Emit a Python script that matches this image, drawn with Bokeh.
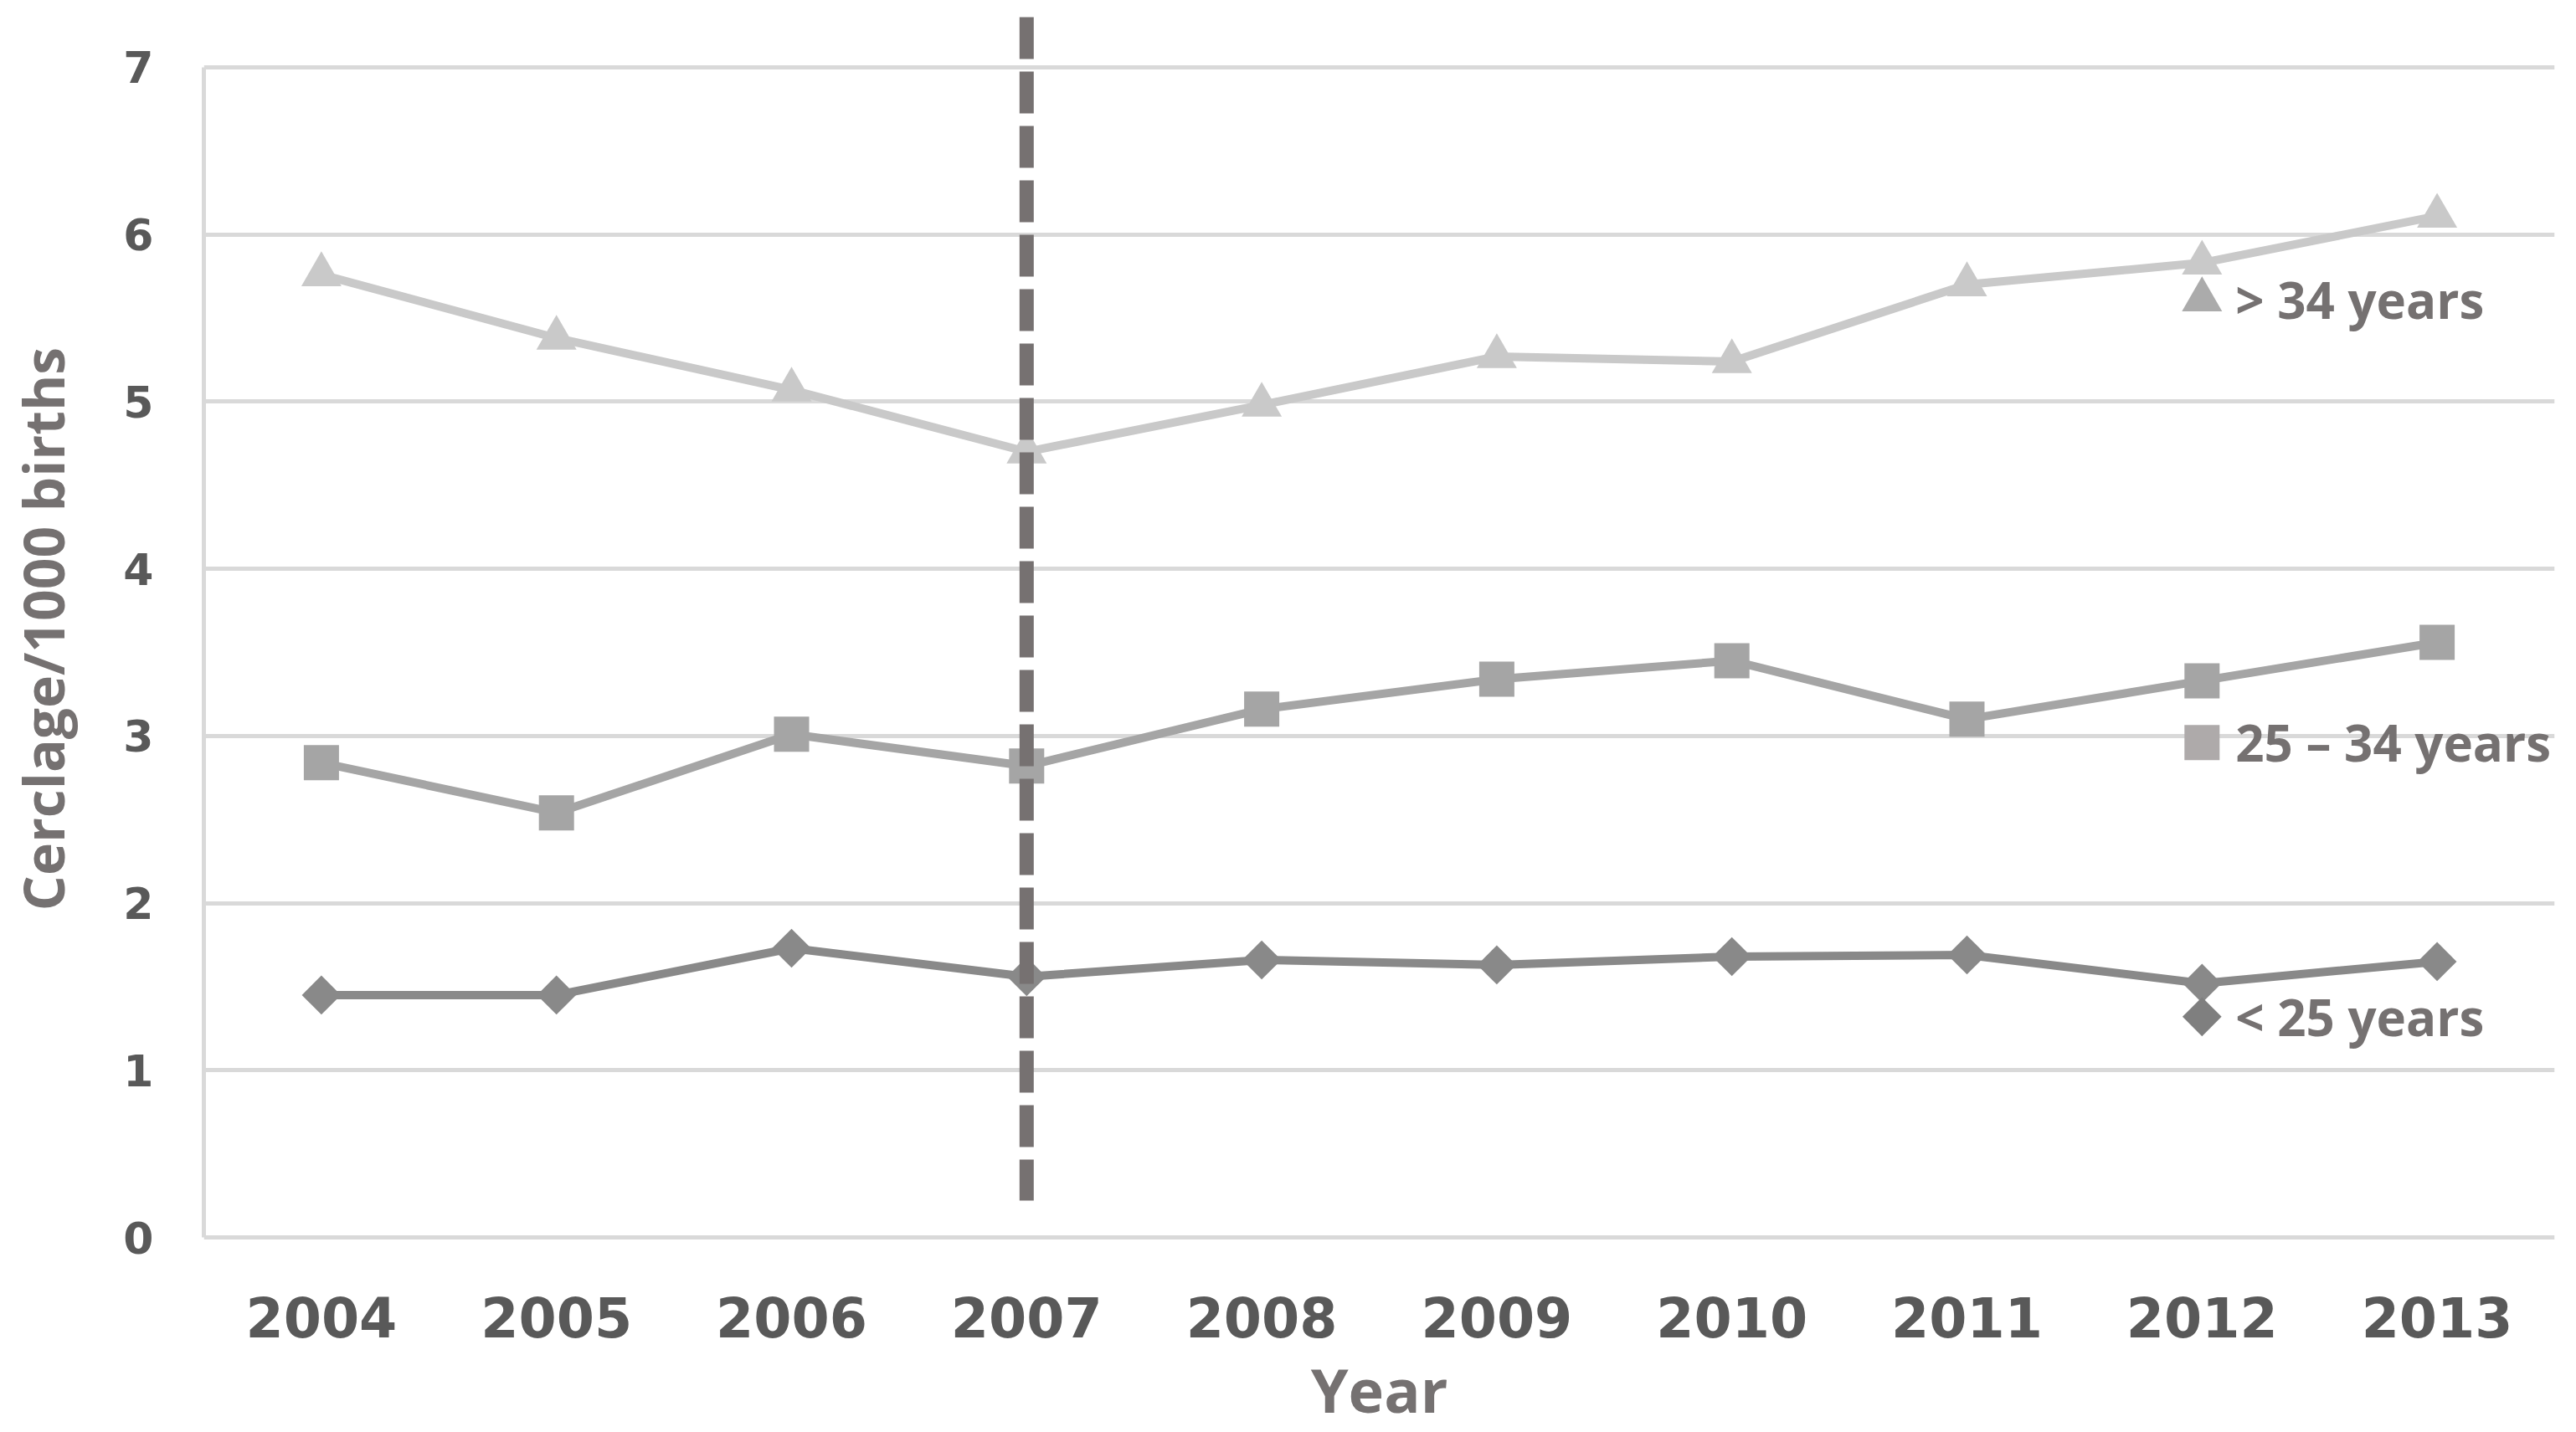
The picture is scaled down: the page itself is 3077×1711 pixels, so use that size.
import math
from bokeh.plotting import figure
from bokeh.models import FixedTicker, Range1d, ColumnDataSource
from bokeh.embed import file_html
from bokeh.resources import INLINE
from bokeh.core.properties import value

# ---------------- data ----------------
years = [2004, 2005, 2006, 2007, 2008, 2009, 2010, 2011, 2012, 2013]
year_labels = ["2004", "2005", "2006", "2007", "2008", "2009", "2010", "2011", "2012", "2013"]
over34 = [5.76, 5.38, 5.07, 4.70, 4.98, 5.27, 5.24, 5.70, 5.83, 6.11]
age25_34 = [2.84, 2.54, 3.01, 2.82, 3.16, 3.34, 3.45, 3.10, 3.33, 3.56]
under25 = [1.45, 1.45, 1.73, 1.56, 1.66, 1.63, 1.68, 1.69, 1.52, 1.65]
series_names = ["> 34 years", "25 \u2013 34 years", "< 25 years"]
y_ticks = [0, 1, 2, 3, 4, 5, 6, 7]
intervention_year = 2007
legend_year = 2012

# ---------------- styles / positions ----------------
legend_y = [5.61, 2.96, 1.32]
line_colors = ["#C9C9C9", "#A5A5A5", "#898989"]
legend_marker_colors = ["#ABABAB", "#AEAAAA", "#7F7F7F"]
text_color = "#757171"
tick_color = "#595959"
grid_color = "#D9D9D9"

p = figure(width=3069, height=1711,
           x_range=Range1d(2003.5, 2013.5), y_range=Range1d(-0.03, 7.31),
           output_backend="svg", toolbar_location=None,
           min_border_left=243, min_border_right=18,
           min_border_top=18, min_border_bottom=221)
p.outline_line_color = None
p.background_fill_color = "white"
p.border_fill_color = "white"

p.xgrid.grid_line_color = None
p.ygrid.grid_line_color = grid_color
p.ygrid.grid_line_width = 5
p.ygrid.ticker = FixedTicker(ticks=y_ticks)

p.xaxis.ticker = FixedTicker(ticks=years)
p.xaxis.major_label_overrides = {y: l for y, l in zip(years, year_labels)}
p.yaxis.ticker = FixedTicker(ticks=y_ticks)

for ax in (p.xaxis[0], p.yaxis[0]):
    ax.major_tick_line_color = None
    ax.minor_tick_line_color = None
    ax.major_tick_in = 0
    ax.major_tick_out = 0
    ax.minor_tick_in = 0
    ax.minor_tick_out = 0
    ax.major_label_text_font = "DejaVu Sans"
    ax.major_label_text_font_style = "bold"
    ax.major_label_text_color = tick_color
    ax.axis_label_text_font = "Open Sans"
    ax.axis_label_text_font_style = "bold"
    ax.axis_label_text_color = text_color

p.xaxis.axis_line_color = None
p.xaxis.major_label_text_font_size = "65px"
p.xaxis.major_label_standoff = 64
p.xaxis.axis_label = "Year"
p.xaxis.axis_label_text_font_size = "72px"
p.xaxis.axis_label_standoff = 10

p.yaxis.axis_line_color = grid_color
p.yaxis.axis_line_width = 5
p.yaxis.bounds = (0, 7)
p.yaxis.major_label_text_font_size = "52px"
p.yaxis.major_label_standoff = 60
p.yaxis.axis_label = "Cerclage/1000 births"
p.yaxis.axis_label_text_font_size = "66px"
p.yaxis.axis_label_standoff = 48

# ---------------- series ----------------
markers = ["triangle", "square", "square"]
angles = [0, 0, math.pi / 4]
sizes = [48, 42, 33]
for vals, col, mk, ang, sz in zip([over34, age25_34, under25], line_colors, markers, angles, sizes):
    p.line(years, vals, line_color=col, line_width=10)
    p.scatter(years, vals, marker=mk, angle=ang, size=sz, fill_color=col, line_color=None)

# intervention dashed line
p.segment(x0=[intervention_year], y0=[7.30], x1=[intervention_year], y1=[0.22],
          line_color="#767171", line_width=17, line_dash="50 15")

# in-chart legend
leg = ColumnDataSource(dict(
    x=[legend_year] * 3, y=legend_y, name=series_names,
    marker=markers, angle=angles, size=sizes, color=legend_marker_colors))
p.scatter(x="x", y="y", marker="marker", angle="angle", size="size",
          fill_color="color", line_color=None, source=leg)
p.text(x="x", y="y", text="name", source=leg, x_offset=40,
       text_baseline="middle", text_align="left",
       text_font=value("Open Sans"), text_font_style="bold",
       text_font_size="60px", text_color=text_color)

open("out.html", "w").write(file_html(p, INLINE))
